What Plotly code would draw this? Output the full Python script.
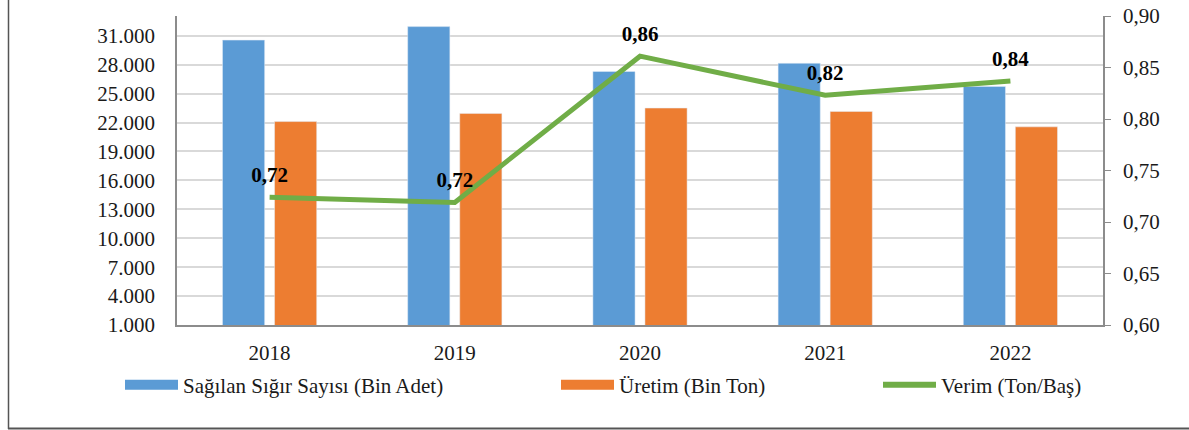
import plotly.graph_objects as go

years = ["2018", "2019", "2020", "2021", "2022"]
sagilan = [30550, 31950, 27300, 28150, 25750]   # Sağılan Sığır Sayısı (Bin Adet)
uretim = [22100, 22950, 23500, 23150, 21550]    # Üretim (Bin Ton)
verim = [0.724, 0.719, 0.861, 0.823, 0.837]     # Verim (Ton/Baş)

left_ticks = [1000, 4000, 7000, 10000, 13000, 16000, 19000, 22000, 25000, 28000, 31000]
right_ticks = [0.60, 0.65, 0.70, 0.75, 0.80, 0.85, 0.90]

FONT = "Liberation Serif"
BLUE = "#5B9BD5"
ORANGE = "#ED7D31"
GREEN = "#70AD47"
AXIS = "#8c8c8c"
GRID = "#d9d9d9"

W, H = 1189, 430
ML, MR, MT, MB = 177, 86, 16, 105
PW, PH = W - ML - MR, H - MT - MB

def px_x(p):
    return (p - ML) / PW

def px_y(p):
    return (H - MB - p) / PH

fig = go.Figure()
fig.add_trace(go.Bar(x=years, y=sagilan, name="Sağılan Sığır Sayısı (Bin Adet)",
                     marker=dict(color=BLUE), showlegend=False))
fig.add_trace(go.Bar(x=years, y=uretim, name="Üretim (Bin Ton)",
                     marker=dict(color=ORANGE), showlegend=False))
fig.add_trace(go.Scatter(x=years, y=verim, name="Verim (Ton/Baş)", yaxis="y2",
                         mode="lines+markers+text",
                         line=dict(color=GREEN, width=5),
                         marker=dict(size=14, color="rgba(0,0,0,0)"),
                         texttemplate="%{y:.2f}", textposition="top center",
                         textfont=dict(family=FONT, size=21, color="#000000", weight="bold"),
                         showlegend=False))

# legend entries
fig.add_trace(go.Scatter(x=[None], y=[None], mode="lines", name="Sağılan Sığır Sayısı (Bin Adet)",
                         line=dict(color=BLUE, width=13), legend="legend"))
fig.add_trace(go.Scatter(x=[None], y=[None], mode="lines", name="Üretim (Bin Ton)",
                         line=dict(color=ORANGE, width=13), legend="legend2"))
fig.add_trace(go.Scatter(x=[None], y=[None], mode="lines", name="Verim (Ton/Baş)",
                         line=dict(color=GREEN, width=6), legend="legend3"))

leg_common = dict(orientation="h", yanchor="middle", xanchor="left",
                  font=dict(family=FONT, size=21, color="#1a1a1a"),
                  bgcolor="rgba(0,0,0,0)", itemwidth=53)

fig.update_layout(
    width=W, height=H,
    margin=dict(l=ML, r=MR, t=MT, b=MB, autoexpand=False),
    paper_bgcolor="white", plot_bgcolor="white",
    separators=",.",
    barmode="group", bargap=0.438, bargroupgap=0.19,
    font=dict(family=FONT, size=21, color="#1a1a1a"),
    xaxis=dict(showline=True, linecolor=AXIS, linewidth=1.5, ticks="",
               showgrid=False, ticklabelstandoff=8, automargin=False),
    yaxis=dict(range=[1000, 33050], tickvals=left_ticks, tickformat=",.0f",
               showline=True, linecolor=AXIS, linewidth=1.5, ticks="",
               showgrid=True, gridcolor=GRID, gridwidth=1.5, zeroline=False,
               ticklabelstandoff=16, automargin=False),
    yaxis2=dict(range=[0.60, 0.90], tickvals=right_ticks, tickformat=".2f",
                overlaying="y", side="right", showgrid=False, zeroline=False,
                showline=True, linecolor=AXIS, linewidth=1.5, automargin=False,
                ticks="outside", ticklen=6, tickcolor=AXIS, ticklabelstandoff=8),
    legend=dict(x=px_x(120), y=px_y(385), **leg_common),
    legend2=dict(x=px_x(556), y=px_y(385), **leg_common),
    legend3=dict(x=px_x(878), y=px_y(385), **leg_common),
    shapes=[
        dict(type="line", xref="paper", yref="paper", x0=px_x(8.5), x1=px_x(8.5),
             y0=px_y(0), y1=px_y(429), line=dict(color="#555555", width=1.5)),
        dict(type="line", xref="paper", yref="paper", x0=px_x(8), x1=px_x(1189),
             y0=px_y(428.5), y1=px_y(428.5), line=dict(color="#555555", width=2)),
    ],
)

fig.write_html("out.html", config={"displayModeBar": False},
               post_script="document.body.style.margin='0';document.body.style.overflow='hidden';")
